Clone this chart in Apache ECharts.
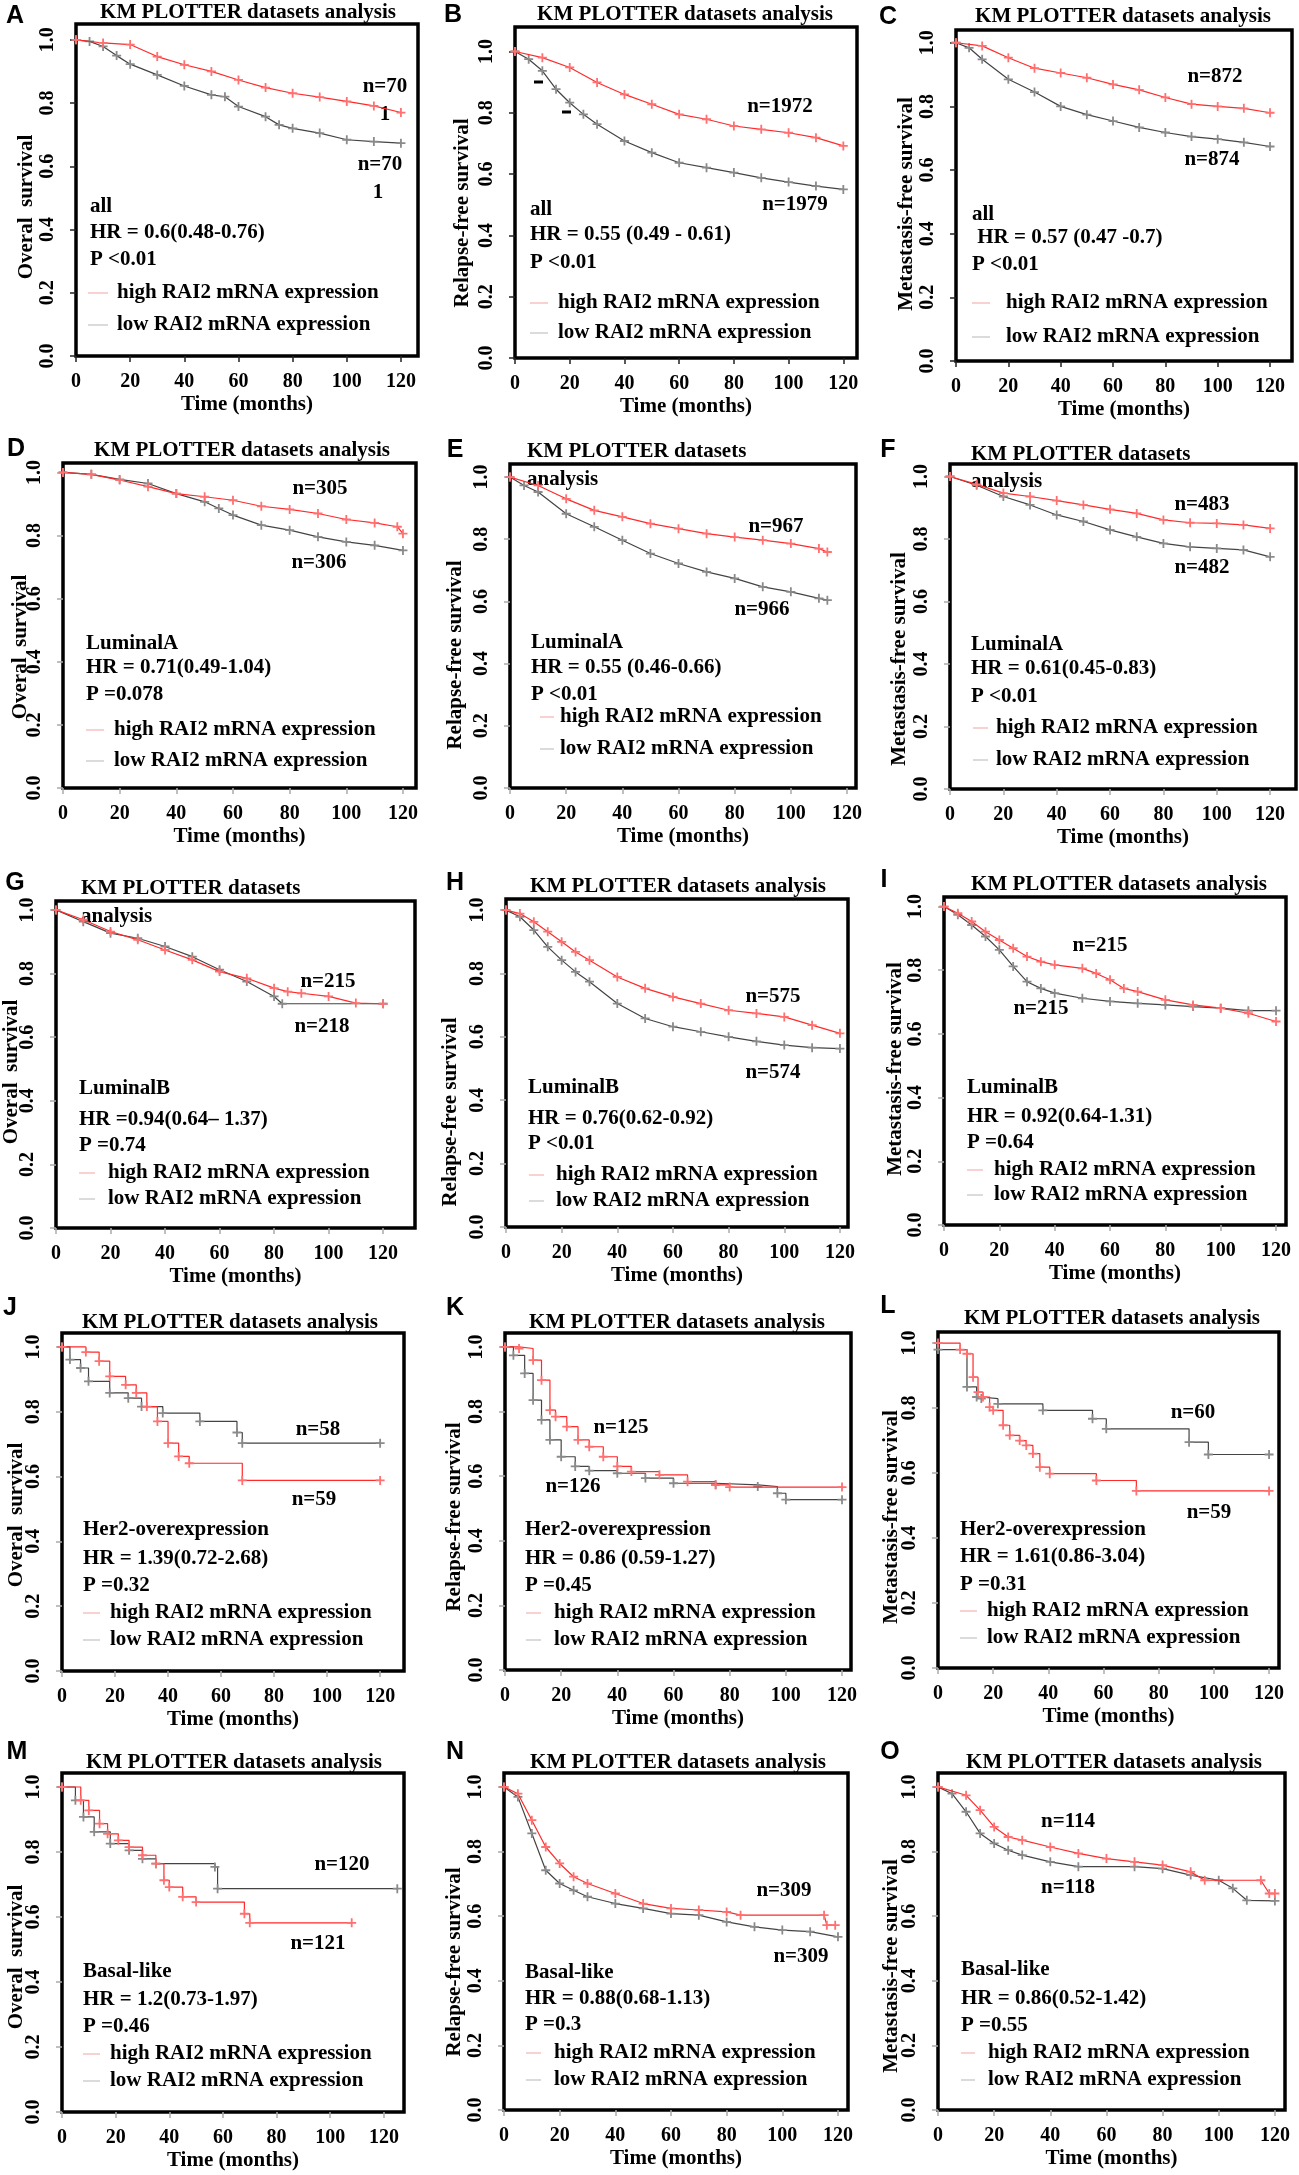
<!DOCTYPE html>
<html>
<head>
<meta charset="utf-8">
<script src="https://cdn.jsdelivr.net/npm/echarts@6/dist/echarts.min.js"></script>
<style>
  html, body { margin: 0; padding: 0; background: #fff; }
  #main { width: 1299px; height: 2175px; }
</style>
</head>
<body>
<div id="main"></div>
<script>
// survival curves: [months, survival]
var highA = [[0,1],[10,0.99],[20,0.985],[30,0.947],[40,0.921],[50,0.9],[60,0.873],[70,0.849],[80,0.831],[90,0.819],[100,0.805],[110,0.791],[120,0.77]];
var lowA  = [[0,1],[5,0.995],[10,0.979],[15,0.95],[20,0.923],[30,0.889],[40,0.854],[50,0.826],[55,0.82],[60,0.789],[70,0.757],[75,0.731],[80,0.72],[90,0.705],[100,0.684],[110,0.678],[120,0.673]];
var highB = [[0,1],[10,0.98],[20,0.948],[30,0.899],[40,0.86],[50,0.828],[60,0.795],[70,0.779],[80,0.757],[90,0.746],[100,0.735],[110,0.719],[120,0.692]];
var lowB  = [[0,1],[5,0.975],[10,0.937],[15,0.877],[20,0.833],[25,0.795],[30,0.763],[40,0.708],[50,0.67],[60,0.637],[70,0.621],[80,0.605],[90,0.588],[100,0.574],[110,0.561],[120,0.55]];
var highC = [[0,1],[10,0.99],[20,0.953],[30,0.92],[40,0.905],[50,0.89],[60,0.869],[70,0.852],[80,0.828],[90,0.807],[100,0.8],[110,0.794],[120,0.78]];
var lowC  = [[0,1],[5,0.984],[10,0.948],[20,0.885],[30,0.845],[40,0.8],[50,0.774],[60,0.754],[70,0.734],[80,0.718],[90,0.705],[100,0.697],[110,0.687],[120,0.674]];
var highD = [[0,1],[10,0.994],[20,0.976],[30,0.955],[40,0.933],[50,0.923],[60,0.912],[70,0.893],[80,0.883],[90,0.87],[100,0.851],[110,0.84],[118,0.828],[120,0.806]];
var lowD  = [[0,1],[10,0.994],[20,0.978],[30,0.965],[40,0.933],[50,0.907],[55,0.886],[60,0.865],[70,0.833],[80,0.817],[90,0.796],[100,0.78],[110,0.769],[120,0.753]];
var highE = [[0,1],[10,0.973],[20,0.93],[30,0.893],[40,0.872],[50,0.85],[60,0.834],[70,0.818],[80,0.807],[90,0.797],[100,0.786],[110,0.77],[113,0.759]];
var lowE  = [[0,1],[5,0.973],[10,0.952],[20,0.882],[30,0.84],[40,0.797],[50,0.754],[60,0.722],[70,0.695],[80,0.674],[90,0.647],[100,0.631],[110,0.61],[113,0.604]];
var highF = [[0,1],[10,0.975],[20,0.947],[30,0.936],[40,0.923],[50,0.909],[60,0.895],[70,0.882],[80,0.861],[90,0.852],[100,0.85],[110,0.845],[120,0.834]];
var lowF  = [[0,1],[10,0.972],[20,0.936],[30,0.909],[40,0.877],[50,0.856],[60,0.829],[70,0.807],[80,0.786],[90,0.775],[100,0.77],[110,0.765],[120,0.743]];
var highG = [[0,1],[10,0.969],[20,0.932],[30,0.906],[40,0.874],[50,0.843],[60,0.806],[70,0.785],[80,0.754],[85,0.743],[90,0.738],[100,0.728],[110,0.707],[120,0.705]];
var lowG  = [[0,1],[10,0.963],[20,0.927],[30,0.911],[40,0.885],[50,0.853],[60,0.812],[70,0.775],[80,0.728],[83,0.705],[120,0.705]];
var highH = [[0,1],[5,0.989],[10,0.963],[15,0.932],[20,0.9],[25,0.868],[30,0.842],[40,0.789],[50,0.753],[60,0.726],[70,0.705],[80,0.684],[90,0.674],[100,0.663],[110,0.637],[120,0.611]];
var lowH  = [[0,1],[5,0.979],[10,0.937],[15,0.884],[20,0.842],[25,0.805],[30,0.774],[40,0.705],[50,0.658],[60,0.632],[70,0.616],[80,0.6],[90,0.586],[100,0.574],[110,0.566],[120,0.563]];
var highI = [[0,1],[5,0.979],[10,0.953],[15,0.921],[20,0.895],[25,0.869],[30,0.843],[35,0.827],[40,0.817],[50,0.806],[55,0.79],[60,0.77],[65,0.743],[70,0.733],[80,0.707],[90,0.691],[100,0.681],[110,0.665],[120,0.639]];
var lowI  = [[0,1],[5,0.974],[10,0.942],[15,0.906],[20,0.864],[25,0.812],[30,0.764],[35,0.743],[40,0.728],[50,0.712],[60,0.702],[70,0.696],[80,0.691],[90,0.686],[100,0.681],[110,0.673],[120,0.673]];
var highJ = [[0,1],[9,0.984],[14,0.956],[18,0.909],[24,0.883],[28,0.858],[32,0.816],[36,0.77],[40,0.703],[44,0.662],[48,0.641],[68,0.588],[120,0.588]];
var lowJ  = [[0,1],[3,0.961],[7,0.935],[10,0.894],[18,0.858],[25,0.842],[30,0.816],[38,0.796],[52,0.77],[66,0.736],[68,0.703],[120,0.703]];
var highK = [[0,1],[5,0.995],[10,0.959],[13,0.897],[16,0.804],[18,0.784],[22,0.753],[26,0.712],[30,0.691],[35,0.66],[40,0.63],[45,0.614],[55,0.604],[65,0.583],[75,0.573],[80,0.566],[120,0.566]];
var lowK  = [[0,1],[3,0.974],[7,0.918],[10,0.835],[13,0.774],[16,0.712],[20,0.66],[25,0.63],[30,0.617],[40,0.609],[50,0.594],[60,0.578],[75,0.573],[90,0.568],[97,0.547],[100,0.527],[120,0.527]];
var highL = [[0,1],[8,0.98],[10.5,0.967],[12.7,0.895],[14.5,0.849],[16.3,0.834],[18.7,0.803],[20,0.793],[23.6,0.747],[26,0.716],[29.6,0.7],[32,0.685],[34.4,0.66],[36.9,0.618],[40.5,0.598],[57.4,0.577],[71.9,0.545],[120,0.545]];
var lowL  = [[0,0.98],[10.5,0.865],[14,0.834],[15.7,0.829],[21.7,0.813],[38,0.793],[56,0.767],[61,0.736],[91,0.695],[98,0.657],[120,0.657]];
var highM = [[0,1],[7,0.959],[10,0.928],[14,0.887],[17,0.856],[21,0.836],[25,0.815],[30,0.79],[35,0.764],[38,0.713],[40,0.692],[45,0.662],[50,0.646],[68,0.61],[70,0.582],[108,0.582]];
var lowM  = [[0,1],[5,0.959],[8,0.908],[12,0.862],[18,0.826],[25,0.805],[30,0.779],[35,0.764],[57,0.754],[58,0.687],[125,0.687]];
var highN = [[0,1],[5,0.979],[10,0.897],[15,0.814],[20,0.763],[25,0.722],[30,0.701],[40,0.67],[50,0.639],[60,0.624],[70,0.619],[80,0.613],[85,0.603],[115,0.603],[116,0.572],[119,0.572]];
var lowN  = [[0,1],[5,0.969],[10,0.856],[15,0.742],[20,0.701],[25,0.68],[30,0.66],[40,0.639],[50,0.624],[60,0.608],[70,0.603],[80,0.582],[90,0.567],[100,0.557],[110,0.552],[120,0.536]];
var highO = [[0,1],[10,0.974],[15,0.928],[20,0.876],[25,0.845],[30,0.835],[40,0.814],[50,0.794],[60,0.778],[70,0.768],[80,0.758],[90,0.737],[95,0.711],[115,0.711],[118,0.67],[120,0.67]];
var lowO  = [[0,1],[5,0.979],[10,0.923],[15,0.856],[20,0.825],[25,0.804],[30,0.789],[40,0.768],[50,0.753],[70,0.753],[80,0.747],[90,0.727],[100,0.711],[105,0.686],[110,0.649],[120,0.647]];

var letters = ['A','B','C','D','E','F','G','H','I','J','K','L','M','N','O'];
var yNames = ['Overal  survival','Relapse-free survival','Metastasis-free survival'];
var groups = ['all','all','all','LuminalA','LuminalA','LuminalA','LuminalB','LuminalB','LuminalB',
  'Her2-overexpression','Her2-overexpression','Her2-overexpression','Basal-like','Basal-like','Basal-like'];
var hrTexts = ['HR = 0.6(0.48-0.76)','HR = 0.55 (0.49 - 0.61)',' HR = 0.57 (0.47 -0.7)',
  'HR = 0.71(0.49-1.04)','HR = 0.55 (0.46-0.66)','HR = 0.61(0.45-0.83)',
  'HR =0.94(0.64\u2013 1.37)','HR = 0.76(0.62-0.92)','HR = 0.92(0.64-1.31)',
  'HR = 1.39(0.72-2.68)','HR = 0.86 (0.59-1.27)','HR = 1.61(0.86-3.04)',
  'HR = 1.2(0.73-1.97)','HR = 0.88(0.68-1.13)','HR = 0.86(0.52-1.42)'];
var pTexts = ['P <0.01','P <0.01','P <0.01','P =0.078','P <0.01','P <0.01','P =0.74','P <0.01','P =0.64',
  'P =0.32','P =0.45','P =0.31','P =0.46','P =0.3','P =0.55'];
var nTexts = [['n=70','1','n=70','1'],['n=1972','n=1979'],['n=872','n=874'],['n=305','n=306'],['n=967','n=966'],
  ['n=483','n=482'],['n=215','n=218'],['n=575','n=574'],['n=215','n=215'],['n=58','n=59'],['n=125','n=126'],
  ['n=60','n=59'],['n=120','n=121'],['n=309','n=309'],['n=114','n=118']];
var titleText = 'KM PLOTTER datasets analysis';
var legendTexts = ['high RAI2 mRNA expression','low RAI2 mRNA expression'];
var xName = 'Time (months)';

var highSeries = [highA,highB,highC,highD,highE,highF,highG,highH,highI,highJ,highK,highL,highM,highN,highO];
var lowSeries  = [lowA,lowB,lowC,lowD,lowE,lowF,lowG,lowH,lowI,lowJ,lowK,lowL,lowM,lowN,lowO];

// layout of each panel (pixels)
var layout = [
  {grid:[76,24,342,332], xMax:126.3, yMax:1.05, step:false, letter:[15,16], title:[[248,13,'c']], n:[[385,87],[385,115],[380,165],[378,193]], info:[90,207,233,260], leg:[88,108,117,293,325], yn:[27,207]},
  {grid:[515,27,342,331], xMax:125, yMax:1.08, step:false, letter:[453,15], title:[[685,15,'c']], n:[[780,107],[795,205]], info:[530,210,235,263], leg:[530,548,558,303,333], yn:[463,213]},
  {grid:[956,30,336,331], xMax:128.4, yMax:1.04, step:false, letter:[888,17], title:[[1123,17,'c']], n:[[1215,77],[1212,160]], info:[972,215,238,265], leg:[972,990,1006,303,337], yn:[907,204]},
  {grid:[63,463,353,325], xMax:124.6, yMax:1.03, step:false, letter:[16,449], title:[[242,451,'c']], n:[[320,489],[319,563]], info:[86,644,668,695], leg:[86,104,114,730,761], yn:[21,647]},
  {grid:[510,464,346,324], xMax:123.2, yMax:1.042, step:false, letter:[455,450], title:[[527,452,'l',1],[527,480,'l',2]], n:[[776,527],[762,610]], info:[531,643,668,695], leg:[540,554,560,717,749], yn:[456,655]},
  {grid:[950,464,346,325], xMax:129.7, yMax:1.04, step:false, letter:[888,450], title:[[971,455,'l',1],[971,482,'l',2]], n:[[1202,505],[1202,568]], info:[971,645,669,697], leg:[973,988,996,728,760], yn:[900,659]},
  {grid:[56,901,359,327], xMax:131.7, yMax:1.028, step:false, letter:[15,883], title:[[81,889,'l',1],[81,917,'l',2]], n:[[328,982],[322,1027]], info:[79,1089,1120,1146], leg:[79,95,108,1173,1199], yn:[12,1072]},
  {grid:[506,899,342,328], xMax:122.9, yMax:1.035, step:false, letter:[455,883], title:[[678,887,'c']], n:[[773,997],[773,1073]], info:[528,1088,1119,1144], leg:[529,544,556,1175,1201], yn:[451,1112]},
  {grid:[944,897,342,328], xMax:123.6, yMax:1.03, step:false, letter:[884,880], title:[[1119,885,'c']], n:[[1100,946],[1041,1009]], info:[967,1088,1117,1143], leg:[967,983,994,1170,1195], yn:[896,1069]},
  {grid:[62,1333,342,338], xMax:129, yMax:1.043, step:true, letter:[10,1308], title:[[230,1323,'c']], n:[[318,1430],[314,1500]], info:[83,1530,1559,1586], leg:[83,100,110,1613,1640], yn:[17,1515]},
  {grid:[505,1333,346,337], xMax:123.2, yMax:1.043, step:true, letter:[455,1308], title:[[677,1323,'c']], n:[[621,1428],[573,1487]], info:[525,1530,1559,1586], leg:[526,541,554,1613,1640], yn:[455,1517]},
  {grid:[938,1332,341,336], xMax:123.6, yMax:1.034, step:true, letter:[888,1306], title:[[1112,1319,'c']], n:[[1193,1413],[1209,1513]], info:[960,1530,1557,1585], leg:[960,977,987,1611,1638], yn:[892,1517]},
  {grid:[62,1773,342,339], xMax:127.5, yMax:1.043, step:true, letter:[17,1752], title:[[234,1763,'c']], n:[[342,1865],[318,1944]], info:[83,1972,2000,2027], leg:[83,100,110,2054,2081], yn:[17,1957]},
  {grid:[504,1773,344,337], xMax:123.6, yMax:1.043, step:false, letter:[455,1752], title:[[678,1763,'c']], n:[[784,1891],[801,1957]], info:[525,1973,1999,2025], leg:[526,541,554,2053,2080], yn:[455,1962]},
  {grid:[938,1773,347,337], xMax:123.6, yMax:1.043, step:false, letter:[890,1752], title:[[1114,1763,'c']], n:[[1068,1822],[1068,1888]], info:[961,1970,1999,2026], leg:[961,975,988,2053,2080], yn:[892,1966]}
];

var SERIF = '"Liberation Serif", "Times New Roman", serif';
var PLUS = 'path://M4,0H6V10H4Z M0,4H10V6H0Z';

function label(text, x, y, size, align, family, rot) {
  return {
    type: 'text', x: x, y: y, rotation: rot || 0, silent: true,
    style: {
      text: text, fill: '#000',
      font: 'bold ' + size + 'px ' + (family || SERIF),
      align: align, verticalAlign: 'middle',
      textAlign: align, textVerticalAlign: 'middle'
    }
  };
}
function seg(x1, x2, y, color, w) {
  return { type: 'line', silent: true, shape: {x1: x1, y1: y, x2: x2, y2: y}, style: {stroke: color, lineWidth: w || 1.5} };
}

var grids = [], xAxes = [], yAxes = [], series = [], graphics = [];

layout.forEach(function (p, i) {
  var tickCol = i < 3 ? '#222' : '#aaa';
  grids.push({
    left: p.grid[0], top: p.grid[1], width: p.grid[2], height: p.grid[3],
    show: true, borderColor: '#000', borderWidth: 3.5, backgroundColor: 'transparent'
  });
  xAxes.push({
    type: 'value', gridIndex: i, min: 0, max: p.xMax, interval: 20,
    splitLine: {show: false}, axisLine: {show: false},
    axisTick: {show: true, length: 6, lineStyle: {color: tickCol, width: 1.5}},
    axisLabel: {margin: 16, showMaxLabel: false, color: '#000', fontFamily: SERIF, fontWeight: 'bold', fontSize: 20},
    name: xName, nameLocation: 'middle', nameGap: 38,
    nameTextStyle: {color: '#000', fontFamily: SERIF, fontWeight: 'bold', fontSize: 21}
  });
  yAxes.push({
    type: 'value', gridIndex: i, min: 0, max: p.yMax, interval: 0.2,
    splitLine: {show: false}, axisLine: {show: false},
    axisTick: {show: true, length: 6, lineStyle: {color: tickCol, width: 1.5}},
    axisLabel: {
      margin: 18, rotate: 90, showMaxLabel: false, color: '#000',
      fontFamily: SERIF, fontWeight: 'bold', fontSize: 20,
      formatter: function (v) { return v.toFixed(1); }
    }
  });
  series.push({
    type: 'line', xAxisIndex: i, yAxisIndex: i, data: lowSeries[i],
    step: p.step ? 'end' : false, symbol: PLUS, symbolSize: 9, showSymbol: true,
    lineStyle: {color: '#444', width: 1.2}, itemStyle: {color: '#8a8a8a'},
    silent: true, animation: false, z: 2
  });
  series.push({
    type: 'line', xAxisIndex: i, yAxisIndex: i, data: highSeries[i],
    step: p.step ? 'end' : false, symbol: PLUS, symbolSize: 9, showSymbol: true,
    lineStyle: {color: '#ff2a2a', width: 1.2}, itemStyle: {color: '#ff7070'},
    silent: true, animation: false, z: 3
  });

  // panel letter, title, n labels, statistics, legend, y axis name
  graphics.push(label(letters[i], p.letter[0], p.letter[1], 25, 'center', '"Liberation Sans", Arial, sans-serif'));
  p.title.forEach(function (t) {
    var words = titleText.split(' ');
    var txt = t[3] === 1 ? words.slice(0, 3).join(' ') : t[3] === 2 ? words[3] : titleText;
    graphics.push(label(txt, t[0], t[1], 21, t[2] === 'c' ? 'center' : 'left'));
  });
  p.n.forEach(function (pos, k) {
    graphics.push(label(nTexts[i][k], pos[0], pos[1], 21, 'center'));
  });
  graphics.push(label(groups[i], p.info[0], p.info[1], 21, 'left'));
  graphics.push(label(hrTexts[i], p.info[0], p.info[2], 21, 'left'));
  graphics.push(label(pTexts[i], p.info[0], p.info[3], 21, 'left'));
  graphics.push(seg(p.leg[0], p.leg[1], p.leg[3], '#f9c2c2'));
  graphics.push(seg(p.leg[0], p.leg[1], p.leg[4], '#cfcfcf'));
  graphics.push(label(legendTexts[0], p.leg[2], p.leg[3], 21, 'left'));
  graphics.push(label(legendTexts[1], p.leg[2], p.leg[4], 21, 'left'));
  graphics.push(label(yNames[i % 3], p.yn[0], p.yn[1], 21, 'center', SERIF, Math.PI / 2));
});

// two small black dashes inside panel B
graphics.push(seg(534, 543, 82, '#000', 3));
graphics.push(seg(562, 571, 112, '#000', 3));

var myChart = echarts.init(document.getElementById('main'));
myChart.setOption({
  animation: false,
  backgroundColor: '#fff',
  grid: grids,
  xAxis: xAxes,
  yAxis: yAxes,
  series: series,
  graphic: {elements: graphics}
});
</script>
</body>
</html>
